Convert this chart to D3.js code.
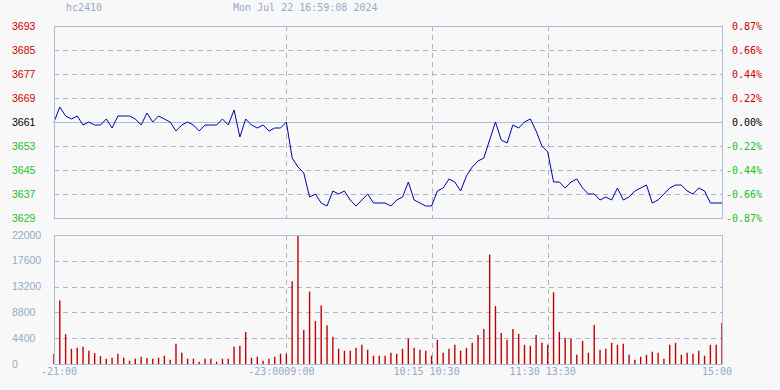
<!DOCTYPE html>
<html><head><meta charset="utf-8">
<script src="https://cdn.jsdelivr.net/npm/d3@7/dist/d3.min.js"></script>
<style>html,body{margin:0;padding:0;background:#f8f8f8;}svg{display:block;}</style>
</head><body><svg id="c" width="780" height="390"></svg>
<script>
const title = "hc2410";
const dateText = "Mon Jul 22 16:59:08 2024";
const prevClose = 3661;
const priceTicks = [3693, 3685, 3677, 3669, 3661, 3653, 3645, 3637, 3629];
const pctTicks = ["0.87%", "0.66%", "0.44%", "0.22%", "0.00%", "-0.22%", "-0.44%", "-0.66%", "-0.87%"];
const volTicks = [22000, 17600, 13200, 8800, 4400, 0];
const timeLabels = ["-21:00", "-23:0009:00", "10:15 10:30", "11:30 13:30", "15:00"];
const timeLabelIdx = [0, 40, 65, 85, 115];
const sessionBreaks = [40, 65, 85];

const price = [
3661,3666,3663,3662,3663,3660,3661,3660,3660,3662,
3659,3663,3663,3663,3662,3660,3664,3661,3663,3662,
3661,3658,3660,3661,3660,3658,3660,3660,3660,3662,
3660,3665,3656,3662,3660,3659,3660,3658,3659,3659,
3661,3649,3646,3644,3636,3637,3634,3633,3638,3637,
3638,3635,3633,3635,3637,3634,3634,3634,3633,3635,
3636,3641,3635,3634,3633,3633,3638,3639,3642,3641,
3638,3643,3646,3648,3649,3655,3661,3655,3654,3660,
3659,3661,3662,3658,3653,3651,3641,3641,3639,3641,
3642,3639,3637,3637,3635,3636,3635,3639,3635,3636,
3638,3639,3640,3634,3635,3637,3639,3640,3640,3638,
3637,3639,3638,3634,3634,3634];

const volume = [
1700,10830,5080,2600,2760,2930,2260,1860,1350,900,
1070,1750,1070,560,900,1240,1020,900,1070,1410,
730,3440,1920,900,900,400,900,900,400,900,
900,2930,3100,5470,1070,1240,560,900,1240,1750,
1750,14100,22000,5810,12350,7330,9990,6600,4630,2600,
2260,2260,2760,3270,2430,1410,1410,1410,1920,1750,
2600,4340,2760,2430,2260,1410,4120,1920,2600,3270,
2260,2760,3610,4960,5980,18670,9870,5300,4120,5980,
5130,3270,3100,4960,3610,3270,12240,5470,4460,4290,
1580,3950,1920,6660,2430,2600,3610,3270,3440,1580,
730,1240,1580,2090,1920,900,3270,3610,1580,1920,
1750,2260,1410,3270,3270,7050];

const svg = d3.select("#c");
const L = 54, R = 722;
const pTop = 26, pBot = 218, vTop = 235, vBot = 364;
const borderCol = "#a9c0dc", gridCol = "#a6b6cc", lblCol = "#94aac6";

const x = d3.scaleLinear().domain([0, price.length - 1]).range([L, R]);
const yP = d3.scaleLinear().domain([3629, 3693]).range([pBot, pTop]);
const yV = d3.scaleLinear().domain([0, 22000]).range([vBot, vTop]);

svg.append("rect").attr("width",780).attr("height",390).attr("fill","#f8f8f8");

// title
svg.append("text").attr("x",66).attr("y",11).attr("font-family","DejaVu Sans Mono").attr("font-size",10).attr("fill",lblCol).text(title);
svg.append("text").attr("x",233).attr("y",11).attr("font-family","DejaVu Sans Mono").attr("font-size",10).attr("fill",lblCol).text(dateText);

// price grid
const g = svg.append("g");
priceTicks.forEach((p, i) => {
  const yy = Math.round(yP(p)) + 0.5;
  if (p === prevClose) {
    g.append("line").attr("x1",L).attr("x2",R).attr("y1",yy).attr("y2",yy).attr("stroke",borderCol).attr("stroke-width",1);
  } else if (i > 0 && i < priceTicks.length - 1) {
    g.append("line").attr("x1",L).attr("x2",R).attr("y1",yy).attr("y2",yy).attr("stroke",gridCol).attr("stroke-width",1).attr("stroke-dasharray","5,4");
  }
  const col = p > prevClose ? "#cc0000" : (p < prevClose ? "#22c022" : "#000000");
  g.append("text").attr("x",12).attr("y",yP(p)).attr("dy","0.35em").attr("font-family","Liberation Sans").attr("font-size",10.5).attr("fill",col).text(p);
  g.append("text").attr("x",762).attr("y",yP(p)).attr("dy","0.35em").attr("text-anchor","end").attr("font-family","DejaVu Sans Mono").attr("font-size",10).attr("fill",col).text(pctTicks[i]);
});

// volume grid
volTicks.forEach((v, i) => {
  const yy = Math.round(yV(v)) + 0.5;
  if (v !== 0 && v !== 22000) {
    g.append("line").attr("x1",L).attr("x2",R).attr("y1",yy).attr("y2",yy).attr("stroke",gridCol).attr("stroke-width",1).attr("stroke-dasharray","5,4");
  }
  g.append("text").attr("x",12).attr("y",yV(v)).attr("dy","0.35em").attr("font-family","Liberation Sans").attr("font-size",10.5).attr("fill",lblCol).text(v);
});

// session break vertical lines
sessionBreaks.forEach(i => {
  const xx = Math.round(x(i)) + 0.5;
  [[pTop,pBot],[vTop,vBot]].forEach(([a,b]) => {
    g.append("line").attr("x1",xx).attr("x2",xx).attr("y1",a).attr("y2",b).attr("stroke",gridCol).attr("stroke-width",1).attr("stroke-dasharray","5,4");
  });
});

// volume bars
svg.append("g").selectAll("line").data(volume).join("line")
  .attr("x1",(d,i)=>x(i)).attr("x2",(d,i)=>x(i))
  .attr("y1",yV(0)).attr("y2",d=>yV(d))
  .attr("stroke","#c00000").attr("stroke-width",1.4);

// price line
svg.append("path").datum(price)
  .attr("d", d3.line().x((d,i)=>x(i)).y(d=>yP(d)))
  .attr("fill","none").attr("stroke","#0000a8").attr("stroke-width",1);

// borders
svg.append("rect").attr("x",L+0.5).attr("y",pTop+0.5).attr("width",R-L).attr("height",pBot-pTop).attr("fill","none").attr("stroke",borderCol);
svg.append("rect").attr("x",L+0.5).attr("y",vTop+0.5).attr("width",R-L).attr("height",vBot-vTop).attr("fill","none").attr("stroke",borderCol);

// time labels
timeLabels.forEach((t, k) => {
  const i = timeLabelIdx[k];
  const t0 = svg.append("text").attr("y",375).attr("font-family","DejaVu Sans Mono").attr("font-size",10).attr("fill",lblCol).text(t);
  if (k === 0) t0.attr("x", x(i) - 13).attr("text-anchor","start");
  else t0.attr("x", x(i) - 5).attr("text-anchor","middle");
});
</script></body></html>
